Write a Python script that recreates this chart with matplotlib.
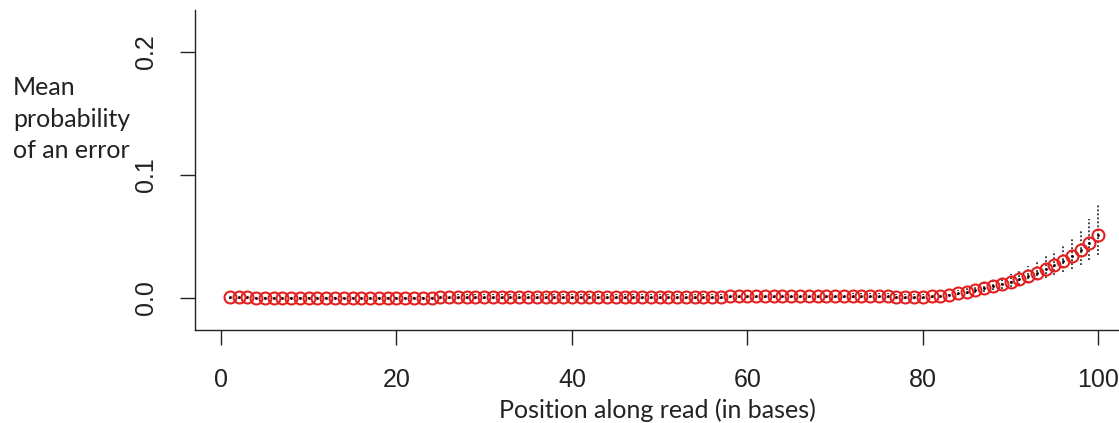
import numpy as np
import matplotlib
matplotlib.use('Agg')
import matplotlib.pyplot as plt

# read positions 1..100
position = list(range(1, 101))

mean_err = [
    0.0006, 0.0006, 0.0005, 0.0004, 0.0004, 0.0004, 0.0004, 0.0004, 0.0004, 0.0004,
    0.0004, 0.0004, 0.0004, 0.0004, 0.0004, 0.0004, 0.0004, 0.0004, 0.0004, 0.0004,
    0.0004, 0.0004, 0.0004, 0.0004, 0.0005, 0.0008, 0.0009, 0.0009, 0.0009, 0.0009,
    0.0009, 0.0009, 0.0009, 0.0009, 0.0009, 0.0009, 0.0009, 0.0009, 0.0009, 0.0009,
    0.0009, 0.0009, 0.0009, 0.0009, 0.0009, 0.0009, 0.0009, 0.0009, 0.0009, 0.0009,
    0.0009, 0.0009, 0.0009, 0.0009, 0.0009, 0.0009, 0.0010, 0.0013, 0.0016, 0.0016,
    0.0016, 0.0016, 0.0016, 0.0016, 0.0016, 0.0016, 0.0016, 0.0016, 0.0016, 0.0016,
    0.0016, 0.0017, 0.0018, 0.0018, 0.0018, 0.0017, 0.0010, 0.0010, 0.0010, 0.0010,
    0.0013, 0.0020, 0.0028, 0.0038, 0.0050, 0.0063, 0.0078, 0.0095, 0.0112, 0.0132,
    0.0155, 0.0180, 0.0207, 0.0237, 0.0270, 0.0302, 0.0345, 0.0390, 0.0445, 0.0515,
]

upper_err = [
    0.0026, 0.0026, 0.0025, 0.0024, 0.0024, 0.0024, 0.0024, 0.0024, 0.0024, 0.0024,
    0.0024, 0.0024, 0.0024, 0.0024, 0.0024, 0.0024, 0.0024, 0.0024, 0.0024, 0.0024,
    0.0024, 0.0024, 0.0024, 0.0024, 0.0025, 0.0028, 0.0029, 0.0029, 0.0029, 0.0029,
    0.0029, 0.0029, 0.0029, 0.0029, 0.0029, 0.0029, 0.0029, 0.0029, 0.0029, 0.0029,
    0.0029, 0.0029, 0.0029, 0.0029, 0.0029, 0.0029, 0.0029, 0.0029, 0.0029, 0.0029,
    0.0029, 0.0029, 0.0029, 0.0029, 0.0029, 0.0029, 0.0030, 0.0033, 0.0036, 0.0036,
    0.0036, 0.0036, 0.0036, 0.0036, 0.0036, 0.0036, 0.0036, 0.0036, 0.0036, 0.0036,
    0.0036, 0.0037, 0.0038, 0.0038, 0.0038, 0.0037, 0.0030, 0.0030, 0.0030, 0.0030,
    0.0030, 0.0040, 0.0052, 0.0066, 0.0082, 0.0100, 0.0120, 0.0143, 0.0167, 0.0195,
    0.0226, 0.0260, 0.0298, 0.0340, 0.0385, 0.0432, 0.0490, 0.0555, 0.0640, 0.0755,
]

lower_err = [
    -0.0010, -0.0010, -0.0010, -0.0011, -0.0011, -0.0011, -0.0011, -0.0011, -0.0011, -0.0011,
    -0.0011, -0.0011, -0.0011, -0.0011, -0.0011, -0.0011, -0.0011, -0.0011, -0.0011, -0.0011,
    -0.0011, -0.0011, -0.0011, -0.0011, -0.0010, -0.0007, -0.0006, -0.0006, -0.0006, -0.0006,
    -0.0006, -0.0006, -0.0006, -0.0006, -0.0006, -0.0006, -0.0006, -0.0006, -0.0006, -0.0006,
    -0.0006, -0.0006, -0.0006, -0.0006, -0.0006, -0.0006, -0.0006, -0.0006, -0.0006, -0.0006,
    -0.0006, -0.0006, -0.0006, -0.0006, -0.0006, -0.0006, -0.0005, -0.0002, 0.0001, 0.0001,
    0.0001, 0.0001, 0.0001, 0.0001, 0.0001, 0.0001, 0.0001, 0.0001, 0.0001, 0.0001,
    0.0001, 0.0002, 0.0003, 0.0003, 0.0003, 0.0002, -0.0005, -0.0005, -0.0005, -0.0005,
    0.0002, 0.0008, 0.0014, 0.0021, 0.0030, 0.0040, 0.0051, 0.0063, 0.0076, 0.0090,
    0.0106, 0.0124, 0.0143, 0.0164, 0.0186, 0.0208, 0.0237, 0.0268, 0.0305, 0.0350,
]

x_ticks = [0, 20, 40, 60, 80, 100]
y_ticks = [0.0, 0.1, 0.2]

W, H = 1119, 423
fig = plt.figure(figsize=(W / 100, H / 100), dpi=100)
ax = fig.add_axes([195 / W, (H - 330) / H, (1133 - 195) / W, 320 / H])

# confidence interval segments, dotted
ax.vlines(position, lower_err, upper_err, colors='#111111', linestyles=(0, (1.2, 1.4)), linewidth=1.1, zorder=1)
ax.plot(position, mean_err, linestyle='none', marker='.', markersize=2, color='black', zorder=2)
ax.plot(position, mean_err, linestyle='none', marker='o', markersize=8.6, markerfacecolor='none',
        markeredgecolor='#e3201f', markeredgewidth=1.5, zorder=3)

ax.set_xlim(-2.96, 103.96)
ax.set_ylim(-0.026, 0.234)

for side in ['top', 'right']:
    ax.spines[side].set_visible(False)
for side in ['left', 'bottom']:
    ax.spines[side].set_linewidth(1.0)
    ax.spines[side].set_color('#222222')

ax.set_xticks(x_ticks)
ax.set_xticklabels([str(v) for v in x_ticks], fontsize=18, family='Liberation Sans', color='#222222')
ax.set_yticks(y_ticks)
ax.set_yticklabels([f"{v:.1f}" for v in y_ticks], fontsize=18, family='Liberation Sans',
                   color='#222222', rotation=90, va='center')
ax.tick_params(axis='both', length=11, width=1.0, color='#222222', pad=16)

fig.text(657 / W, 1 - 410 / H, 'Position along read (in bases)', fontsize=18, family='Lato',
         ha='center', va='center', color='#222222')
fig.text(13 / W, 1 - 119 / H, 'Mean\nprobability\nof an error', fontsize=18, family='Lato',
         ha='left', va='center', color='#222222', linespacing=1.45)

fig.savefig('out.png', dpi=100)
